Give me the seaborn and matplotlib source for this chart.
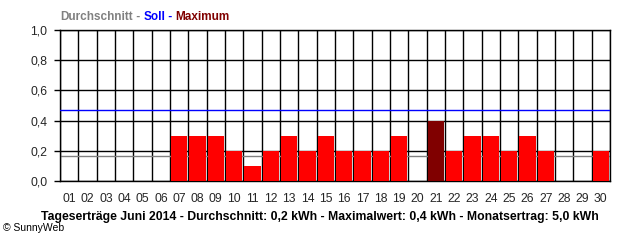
import matplotlib
matplotlib.use("Agg")
import matplotlib.pyplot as plt
import seaborn as sns
import pandas as pd
import numpy as np

# ---- data ----
days = ["01", "02", "03", "04", "05", "06", "07", "08", "09", "10",
        "11", "12", "13", "14", "15", "16", "17", "18", "19", "20",
        "21", "22", "23", "24", "25", "26", "27", "28", "29", "30"]
yields = [0, 0, 0, 0, 0, 0, 0.3, 0.3, 0.3, 0.2,
          0.1, 0.2, 0.3, 0.2, 0.3, 0.2, 0.2, 0.2, 0.3, 0,
          0.4, 0.2, 0.3, 0.3, 0.2, 0.3, 0.2, 0, 0, 0.2]
average = 0.167
target = 0.47
y_ticks = [0.0, 0.2, 0.4, 0.6, 0.8, 1.0]
y_tick_labels = ["0,0", "0,2", "0,4", "0,6", "0,8", "1,0"]
title_parts = [("Durchschnitt", "#808080"), (" - ", "#808080"),
               ("Soll", "#0000FF"), (" - ", "#0000FF"),
               ("Maximum", "#800000")]
footer = "Tageserträge Juni 2014 - Durchschnitt: 0,2 kWh - Maximalwert: 0,4 kWh - Monatsertrag: 5,0 kWh"
copyright_text = "© SunnyWeb"

sns.set_style("white")
plt.rcParams['font.family'] = ['Liberation Sans', 'DejaVu Sans']

df = pd.DataFrame({"day": days, "kwh": yields})
max_val = max(yields)
palette = {d: ("#800000" if v == max_val else "#FF0000") for d, v in zip(days, yields)}

fig = plt.figure(figsize=(6.4, 2.4), dpi=100)
ax = fig.add_axes([60 / 640, 1 - 181 / 240, 550 / 640, 151 / 240])

sns.barplot(data=df, x="day", y="kwh", hue="day", palette=palette, legend=False,
            width=0.88, saturation=1, ax=ax, zorder=3, linewidth=0)

ax.axhline(average, color="#808080", lw=1.0, zorder=2)
ax.axhline(target, color="#0000FF", lw=1.0, zorder=4)

ax.set_xlim(-0.5, len(days) - 0.5)
ax.set_ylim(0, 1.0)
ax.set_yticks(y_ticks)
ax.set_yticklabels(y_tick_labels, fontsize=8.7)
ax.set_xticks(range(len(days)))
ax.set_xticklabels(days, fontsize=8.7)
ax.set_xticks(np.arange(-0.5, len(days), 1.0), minor=True)
ax.tick_params(axis="x", which="major", length=0, pad=9)
ax.tick_params(axis="x", which="minor", length=6, width=1.0, color="black")
ax.tick_params(axis="y", which="major", length=4, width=1.0, color="black", pad=5, left=True)
ax.grid(True, axis="y", which="major", color="black", lw=1.0, zorder=1)
ax.grid(True, axis="x", which="minor", color="black", lw=1.0, zorder=1)
ax.grid(False, axis="x", which="major")
ax.set_axisbelow(True)
for s in ax.spines.values():
    s.set_visible(True)
    s.set_color("black")
    s.set_linewidth(1.0)
ax.set_xlabel("")
ax.set_ylabel("")

# title made of coloured parts
fig.canvas.draw()
renderer = fig.canvas.get_renderer()
x_px = 60
for txt, col in title_parts:
    t = fig.text(x_px / 640, 1 - 17 / 240, txt, color=col, fontsize=8.5,
                 fontweight="bold", ha="left", va="center")
    bb = t.get_window_extent(renderer=renderer)
    x_px += bb.width

fig.text(320 / 640, 1 - 217 / 240, footer, fontsize=8.8, fontweight="bold",
         ha="center", va="center", color="black")
fig.text(3 / 640, 1 - 228 / 240, copyright_text, fontsize=7.5,
         ha="left", va="center", color="black")

fig.savefig("out.png", dpi=100)
